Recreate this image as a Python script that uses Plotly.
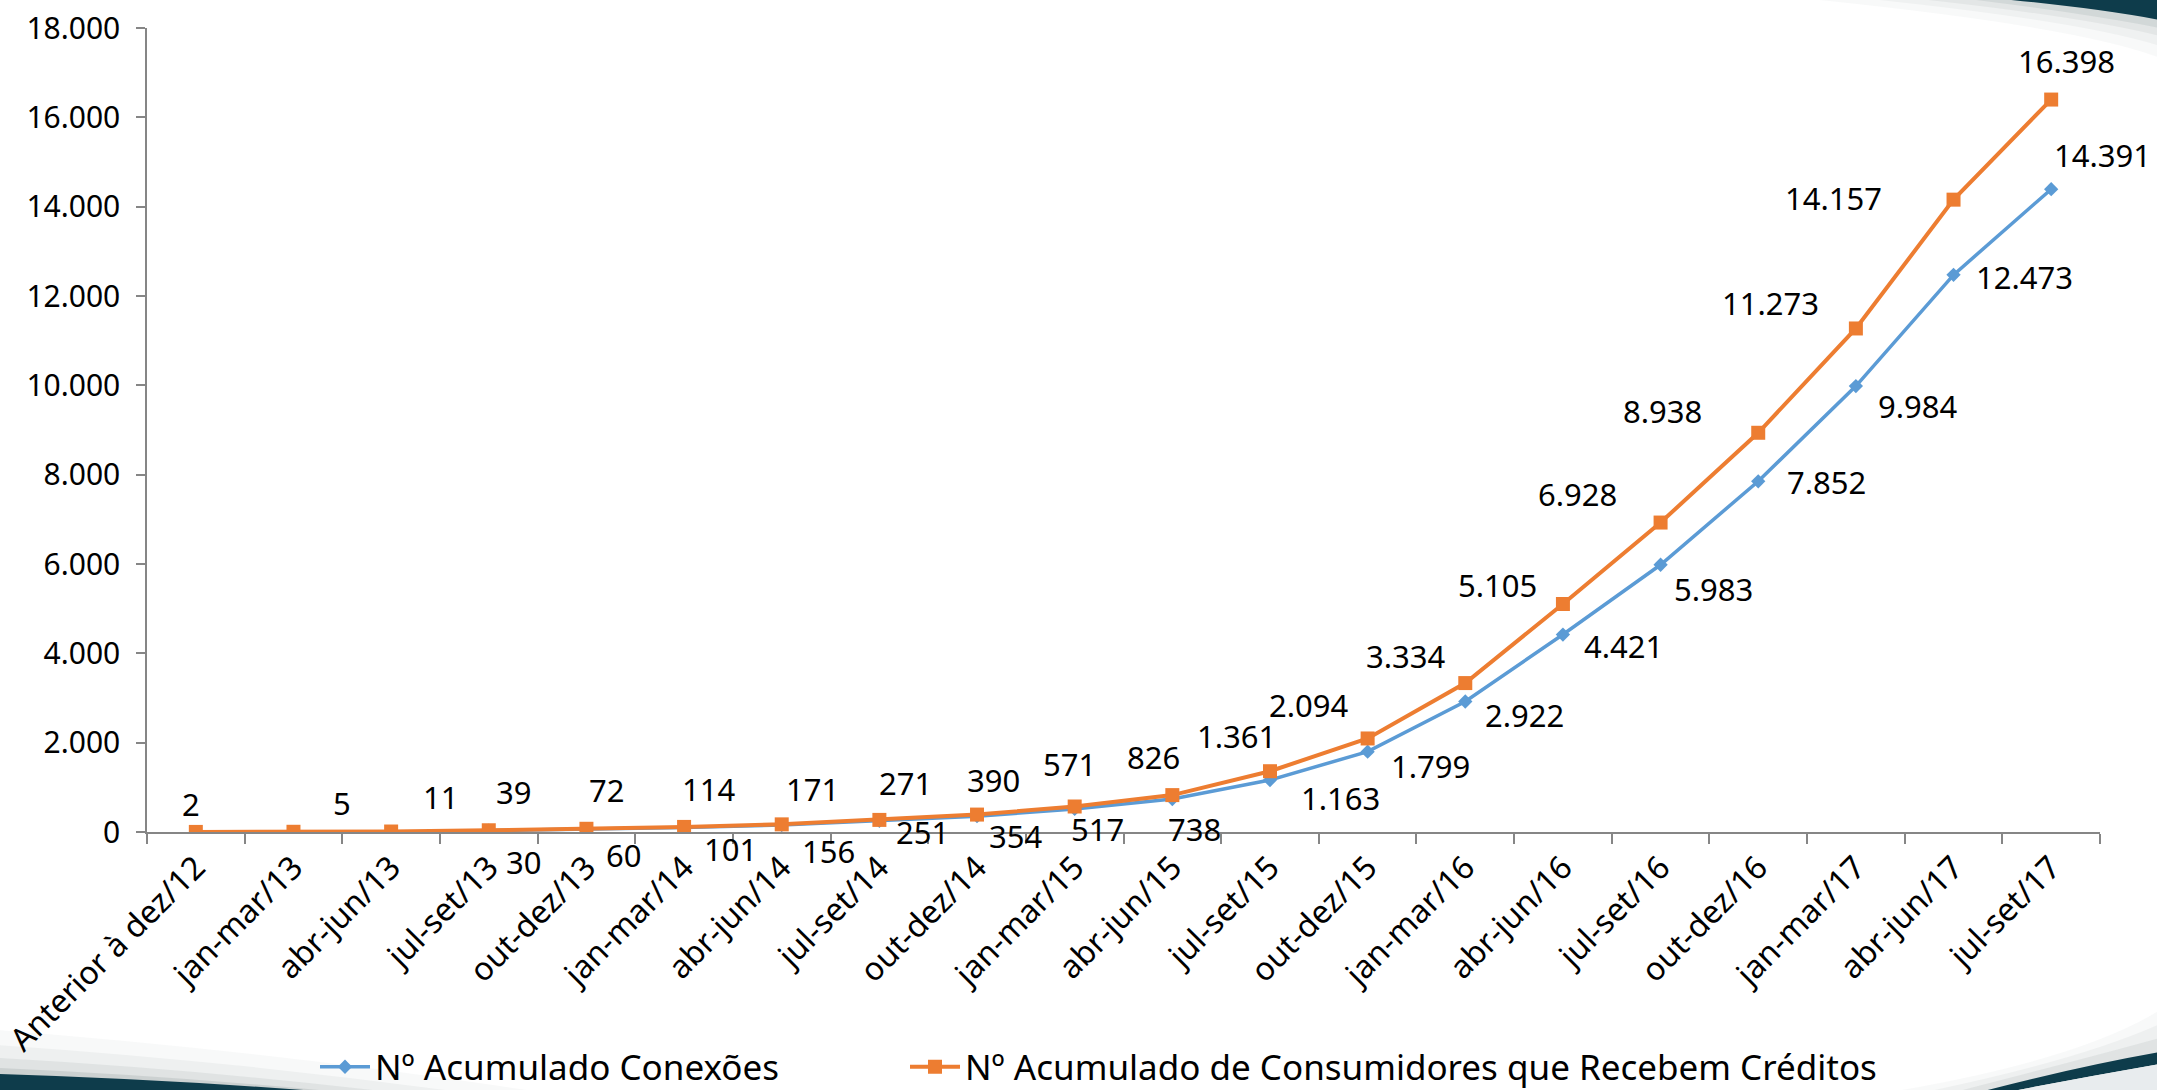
import plotly.graph_objects as go

W, H = 2157, 1090
ML, MR, MT, MB = 147, 57, 28, 258

categories = ["Anterior à dez/12", "jan-mar/13", "abr-jun/13", "jul-set/13", "out-dez/13",
              "jan-mar/14", "abr-jun/14", "jul-set/14", "out-dez/14", "jan-mar/15",
              "abr-jun/15", "jul-set/15", "out-dez/15", "jan-mar/16", "abr-jun/16",
              "jul-set/16", "out-dez/16", "jan-mar/17", "abr-jun/17", "jul-set/17"]

conexoes = [None, None, None, 30, 60, 101, 156, 251, 354, 517, 738, 1163, 1799, 2922,
            4421, 5983, 7852, 9984, 12473, 14391]
consumidores = [2, 5, 11, 39, 72, 114, 171, 271, 390, 571, 826, 1361, 2094, 3334,
                5105, 6928, 8938, 11273, 14157, 16398]

name_conexoes = "Nº Acumulado Conexões"
name_consumidores = "Nº Acumulado de Consumidores que Recebem Créditos"

# label offsets in pixels (dx, dy up)
off_consumidores = [(-5, 28), (49, 29), (49, 35), (25, 38), (20, 39), (24, 38), (31, 35),
                    (26, 37), (16, 35), (-5, 43), (-19, 38), (-33, 35), (-59, 33),
                    (-59, 27), (-65, 19), (-83, 29), (-96, 22), (-85, 25), (-120, 2), (15, 39)]
off_conexoes = [None, None, None, (35, -31), (37, -26), (46, -22), (47, -26), (43, -11),
                (38, -20), (23, -20), (22, -30), (71, -18), (63, -14), (59, -14), (61, -11),
                (53, -24), (68, -1), (62, -20), (71, -2), (51, 34)]

BLUE = "#5B9BD5"
ORANGE = "#ED7D31"
FONT = "Noto Sans"

def fmt(v):
    return f"{v:,}".replace(",", ".")

fig = go.Figure()
fig.add_trace(go.Scatter(x=categories, y=conexoes, name=name_conexoes, mode="lines+markers",
                         line=dict(color=BLUE, width=3.5),
                         marker=dict(symbol="diamond", size=11, color=BLUE),
                         legend="legend"))
fig.add_trace(go.Scatter(x=categories, y=consumidores, name=name_consumidores, mode="lines+markers",
                         line=dict(color=ORANGE, width=4),
                         marker=dict(symbol="square", size=14, color=ORANGE),
                         legend="legend2"))

ann = []
for c, v, o in zip(categories, consumidores, off_consumidores):
    ann.append(dict(x=c, y=v, text=fmt(v), showarrow=False, xshift=o[0], yshift=o[1],
                    font=dict(family=FONT, size=31, color="#000000")))
for c, v, o in zip(categories, conexoes, off_conexoes):
    if v is None:
        continue
    ann.append(dict(x=c, y=v, text=fmt(v), showarrow=False, xshift=o[0], yshift=o[1],
                    font=dict(family=FONT, size=31, color="#000000")))

# decorative slide swooshes (pixel -> paper conversion)
PW = W - ML - MR
PH = H - MT - MB
def px(x):
    return (x - ML) / PW
def py(y):
    return (H - MB - y) / PH
def path(points):
    s = ""
    for cmd, pts in points:
        s += cmd + " " + " ".join(f"{px(a):.5f},{py(b):.5f}" for a, b in pts) + " "
    return s + "Z"

TEAL = "#0E3C4B"
HAZE = "#7f8c8d"
shapes = []
# top-right haze layers + dark band
for (x0, yr, op) in [(1800, 58, 0.05), (1860, 46, 0.07), (1910, 36, 0.1), (1960, 28, 0.16)]:
    shapes.append(dict(type="path", xref="paper", yref="paper", layer="below",
                       path=path([("M", [(x0, -2)]), ("Q", [(2080, yr * 0.45), (2160, yr)]),
                                  ("L", [(2160, -2)])]),
                       fillcolor=HAZE, opacity=op, line=dict(width=0)))
shapes.append(dict(type="path", xref="paper", yref="paper", layer="below",
                   path=path([("M", [(1990, -2)]), ("Q", [(2090, 7), (2160, 20)]), ("L", [(2160, -2)])]),
                   fillcolor=TEAL, line=dict(width=0)))
# bottom-left haze + band
for (x1, ytop, op) in [(540, 1030, 0.05), (460, 1045, 0.08), (390, 1058, 0.12), (340, 1068, 0.2)]:
    shapes.append(dict(type="path", xref="paper", yref="paper", layer="below",
                       path=path([("M", [(-2, ytop)]), ("Q", [(x1 * 0.5, ytop + (1090 - ytop) * 0.35), (x1, 1092)]),
                                  ("L", [(-2, 1092)])]),
                       fillcolor=HAZE, opacity=op, line=dict(width=0)))
shapes.append(dict(type="path", xref="paper", yref="paper", layer="below",
                   path=path([("M", [(-2, 1074)]), ("Q", [(160, 1079), (330, 1092)]), ("L", [(-2, 1092)])]),
                   fillcolor=TEAL, line=dict(width=0)))
# bottom-right haze + swoosh
for (x0, ytop, op) in [(1890, 1010, 0.05), (1925, 1024, 0.08), (1955, 1038, 0.12)]:
    shapes.append(dict(type="path", xref="paper", yref="paper", layer="below",
                       path=path([("M", [(x0, 1092)]), ("Q", [(2080, 1060), (2160, ytop)]),
                                  ("L", [(2160, 1092)])]),
                       fillcolor=HAZE, opacity=op, line=dict(width=0)))
shapes.append(dict(type="path", xref="paper", yref="paper", layer="below",
                   path=path([("M", [(1980, 1092)]), ("Q", [(2080, 1066), (2160, 1052)]),
                              ("L", [(2160, 1064)]), ("Q", [(2085, 1077), (2008, 1092)])]),
                   fillcolor=TEAL, line=dict(width=0)))
shapes.append(dict(type="path", xref="paper", yref="paper", layer="below",
                   path=path([("M", [(2008, 1092)]), ("Q", [(2085, 1077), (2160, 1064)]),
                              ("L", [(2160, 1092)])]),
                   fillcolor="#e8ecee", line=dict(width=0)))

leg_common = dict(orientation="h", y=py(1067), xanchor="left", yanchor="middle",
                  font=dict(family=FONT, size=35, color="#000000"),
                  itemwidth=50, bgcolor="rgba(0,0,0,0)")

fig.update_layout(
    width=W, height=H,
    margin=dict(l=ML, r=MR, t=MT, b=MB, autoexpand=False),
    paper_bgcolor="#FFFFFF", plot_bgcolor="#FFFFFF",
    separators=",.",
    font=dict(family=FONT, size=29, color="#000000"),
    annotations=ann,
    shapes=shapes,
    showlegend=True,
    legend=dict(x=px(315), **leg_common),
    legend2=dict(x=px(905), **leg_common),
    xaxis=dict(type="category", range=[-0.5, len(categories) - 0.5],
               showline=True, linecolor="#868686", linewidth=1.5,
               ticks="outside", tickson="boundaries", ticklen=10, tickcolor="#868686",
               tickwidth=1.5, tickangle=-45, showgrid=False, zeroline=False,
               tickfont=dict(family=FONT, size=32, color="#000000"),
               ticklabelstandoff=2),
    yaxis=dict(range=[0, 18000], dtick=2000, tickformat=",", showline=True,
               linecolor="#868686", linewidth=1.5, ticks="outside", ticklen=9,
               tickcolor="#868686", tickwidth=1.5, showgrid=False, zeroline=False,
               tickfont=dict(family=FONT, size=30, color="#000000"),
               ticklabelstandoff=10),
)

fig.write_html("out.html", config={"displayModeBar": False},
               post_script="document.body.style.margin='0px';")
